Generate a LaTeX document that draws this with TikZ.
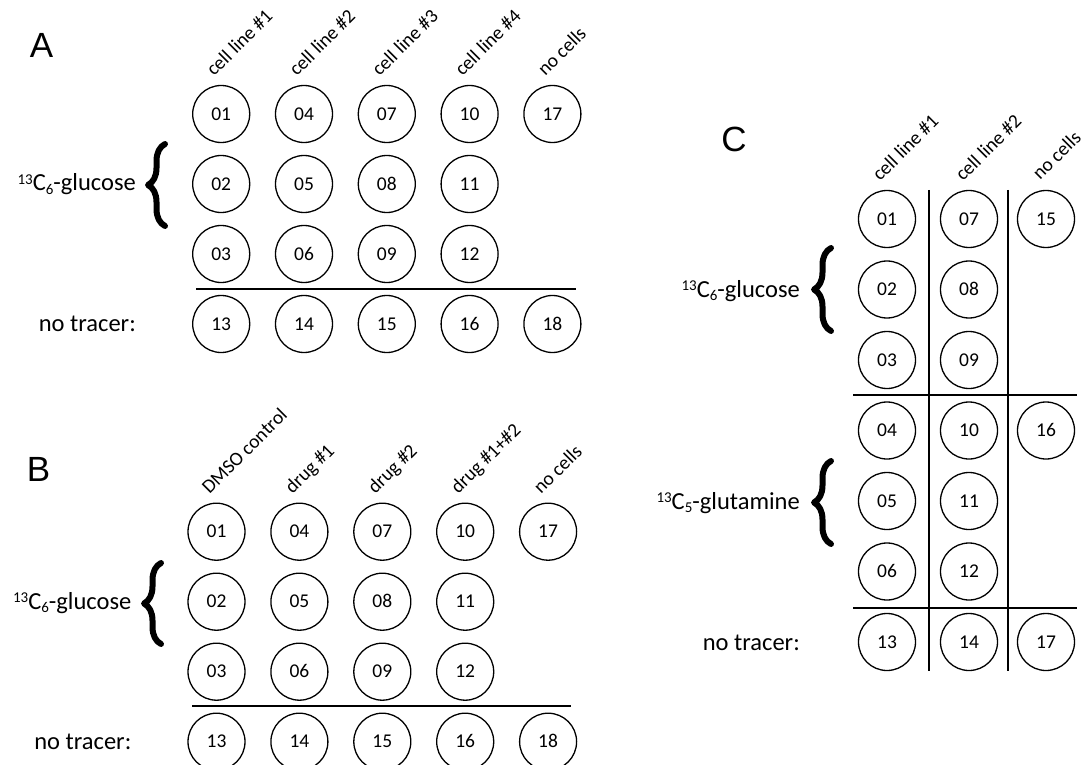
\documentclass[tikz,border=0pt]{standalone}
\usepackage{fontspec}
\setmainfont{Carlito}
\newfontfamily\panelfont{Liberation Sans}
\usetikzlibrary{decorations.pathreplacing}
\newcommand{\supx}[1]{\raisebox{6.5pt}{\fontsize{15}{15}\selectfont #1}}
\newcommand{\subx}[1]{\raisebox{-3.5pt}{\fontsize{15}{15}\selectfont #1}}
\begin{document}
\begin{tikzpicture}[x=1pt,y=-1pt,
  well/.style={circle, draw, line width=1.3pt, minimum size=57pt, inner sep=0pt, text height=12.3pt, text depth=0pt, font=\fontsize{19.5}{22}\selectfont},
  collab/.style={anchor=base west, rotate=45, inner sep=0pt, font=\fontsize{19.5}{22}\selectfont},
  rowlab/.style={anchor=base east, inner sep=0pt, font=\fontsize{24.5}{28}\selectfont},
  panel/.style={inner sep=0pt, font=\panelfont\fontsize{35}{38}\selectfont},
  divider/.style={line width=2pt},
  bracex/.style={decorate, decoration={brace, amplitude=17pt}, line width=6pt, line cap=round, line join=round}]
\useasboundingbox (0,0) rectangle (1085,765);

% ---------------- Panel A ----------------
\node[panel] (pA) at (41.5,45) {A};
\foreach \w/\c/\r in {01/0/0,02/0/1,03/0/2,13/0/3,04/1/0,05/1/1,06/1/2,14/1/3,
  07/2/0,08/2/1,09/2/2,15/2/3,10/3/0,11/3/1,12/3/2,16/3/3,17/4/0,18/4/3}
  \node[well] (a\w) at ({221.2+82.8*\c},{114+70*\r}) {\w};
\foreach \t [count=\i from 0] in {cell line \#1,cell line \#2,cell line \#3,cell line \#4,no cells}
  \node[collab] (al\i) at ({214+82.8*\i},77) {\t};
\node[rowlab] (aglc) at (136,191) {\supx{13}C\subx{6}-glucose};
\node[rowlab] (anot) at (136,331) {no tracer:};
\draw[bracex] (165,226) -- (165,144);
\draw[divider] (196,289) -- (576,289);

% ---------------- Panel B ----------------
\node[panel] (pB) at (38.5,469) {B};
\foreach \w/\c/\r in {01/0/0,02/0/1,03/0/2,13/0/3,04/1/0,05/1/1,06/1/2,14/1/3,
  07/2/0,08/2/1,09/2/2,15/2/3,10/3/0,11/3/1,12/3/2,16/3/3,17/4/0,18/4/3}
  \node[well] (b\w) at ({216.5+82.9*\c},{531.7+70*\r}) {\w};
\foreach \t [count=\i from 0] in {DMSO control,drug \#1,drug \#2,drug \#1+\#2,no cells}
  \node[collab] (bl\i) at ({209.5+82.9*\i},495) {\t};
\node[rowlab] (bglc) at (131.5,609) {\supx{13}C\subx{6}-glucose};
\node[rowlab] (bnot) at (131.5,749) {no tracer:};
\draw[bracex] (161,644) -- (161,563);
\draw[divider] (192,706) -- (571,706);

% ---------------- Panel C ----------------
\node[panel] (pC) at (734,139) {C};
\foreach \w/\x/\r in {01/887/0,02/887/1,03/887/2,04/887/3,05/887/4,06/887/5,13/887/6,
  07/969/0,08/969/1,09/969/2,10/969/3,11/969/4,12/969/5,14/969/6,
  15/1046/0,16/1046/3,17/1046/6}
  \node[well] (c\w) at (\x,{219+70.5*\r}) {\w};
\node[collab] (cl0) at (880,182) {cell line \#1};
\node[collab] (cl1) at (963,182) {cell line \#2};
\node[collab] (cl2) at (1040,181) {no cells};
\node[rowlab] (cglc) at (800,297) {\supx{13}C\subx{6}-glucose};
\node[rowlab] (cglu) at (800,509) {\supx{13}C\subx{5}-glutamine};
\node[rowlab] (cnot) at (800,650) {no tracer:};
\draw[bracex] (831,331) -- (831,248);
\draw[bracex] (831,544) -- (831,461);
\draw[divider] (928.5,190) -- (928.5,671);
\draw[divider] (1007.5,190) -- (1007.5,671);
\draw[divider] (853,395) -- (1077,395);
\draw[divider] (853,607.5) -- (1077,607.5);
\end{tikzpicture}
\end{document}
